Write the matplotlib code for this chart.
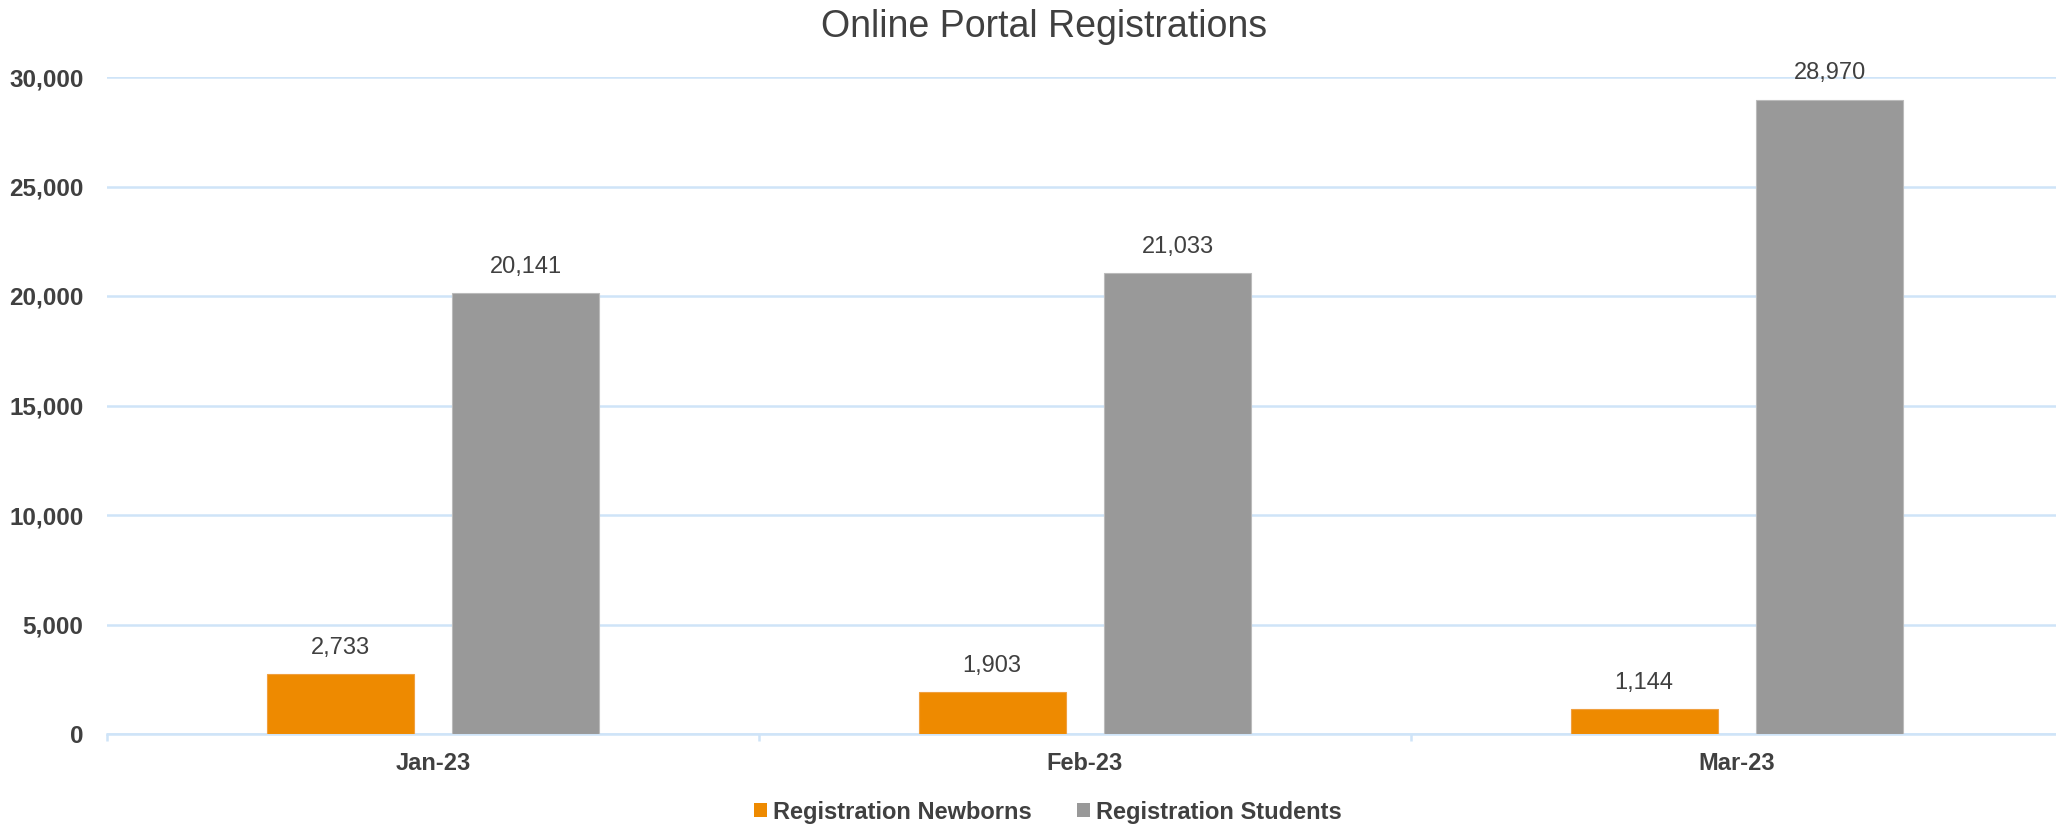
import matplotlib
matplotlib.use("Agg")
import matplotlib.pyplot as plt
from matplotlib.patches import Patch
import numpy as np

categories = ["Jan-23", "Feb-23", "Mar-23"]
newborns = [2733, 1903, 1144]
students = [20141, 21033, 28970]
series_names = ["Registration Newborns", "Registration Students"]
y_ticks = [0, 5000, 10000, 15000, 20000, 25000, 30000]

plt.rcParams['font.family'] = ['Liberation Sans', 'DejaVu Sans']
TEXT = '#404040'
GRID = '#CFE4F8'
ORANGE = '#EE8A00'
GRAY = '#999999'

W, H = 2056, 827
fig = plt.figure(figsize=(W / 100, H / 100), dpi=100)
left, right = 107, 2063
bottom, top = 734, 77
ax = fig.add_axes([left / W, 1 - bottom / H, (right - left) / W, (bottom - top) / H])

x = np.arange(len(categories))
bw = 0.2255
off = 0.1426
b1 = ax.bar(x - off, newborns, bw, color=ORANGE, edgecolor='#F0A040', linewidth=0.8, zorder=3)
b2 = ax.bar(x + off, students, bw, color=GRAY, edgecolor='#BBBBBB', linewidth=0.8, zorder=3)

for bars in (b1, b2):
    ax.bar_label(bars, labels=[f"{v:,.0f}" for v in bars.datavalues], padding=11,
                 fontsize=17, color=TEXT)

ax.set_xlim(-0.5, len(categories) - 0.5)
ax.set_ylim(0, 30000)
ax.set_yticks(y_ticks)
ax.set_yticklabels([f"{v:,}" for v in y_ticks], fontsize=17.5, fontweight='bold', color=TEXT)
ax.tick_params(axis='y', length=0, pad=17)
ax.set_xticks(x)
ax.set_xticklabels(categories, fontsize=17, fontweight='bold', color=TEXT)
ax.set_xticks(np.arange(len(categories) + 1) - 0.5, minor=True)
ax.tick_params(axis='x', which='major', length=0, pad=13)
ax.tick_params(axis='x', which='minor', length=5, width=1.8, color=GRID)

ax.grid(axis='y', color=GRID, linewidth=1.8, zorder=0)
ax.set_axisbelow(True)
for s in ('top', 'right', 'left'):
    ax.spines[s].set_visible(False)
ax.spines['bottom'].set_color(GRID)
ax.spines['bottom'].set_linewidth(1.8)

fig.text(1044 / W, 1 - 27 / H, "Online Portal Registrations", fontsize=27, color=TEXT,
         ha='center', va='center')

handles = [Patch(facecolor=ORANGE), Patch(facecolor=GRAY)]
leg = fig.legend(handles, series_names, loc='center', bbox_to_anchor=(1048 / W, 1 - 812 / H),
                 ncol=2, frameon=False, handlelength=0.55, handleheight=0.55,
                 handletextpad=0.25, columnspacing=1.9,
                 prop={'size': 17, 'weight': 'bold'})
for t in leg.get_texts():
    t.set_color(TEXT)

fig.savefig("out.png", dpi=100)
